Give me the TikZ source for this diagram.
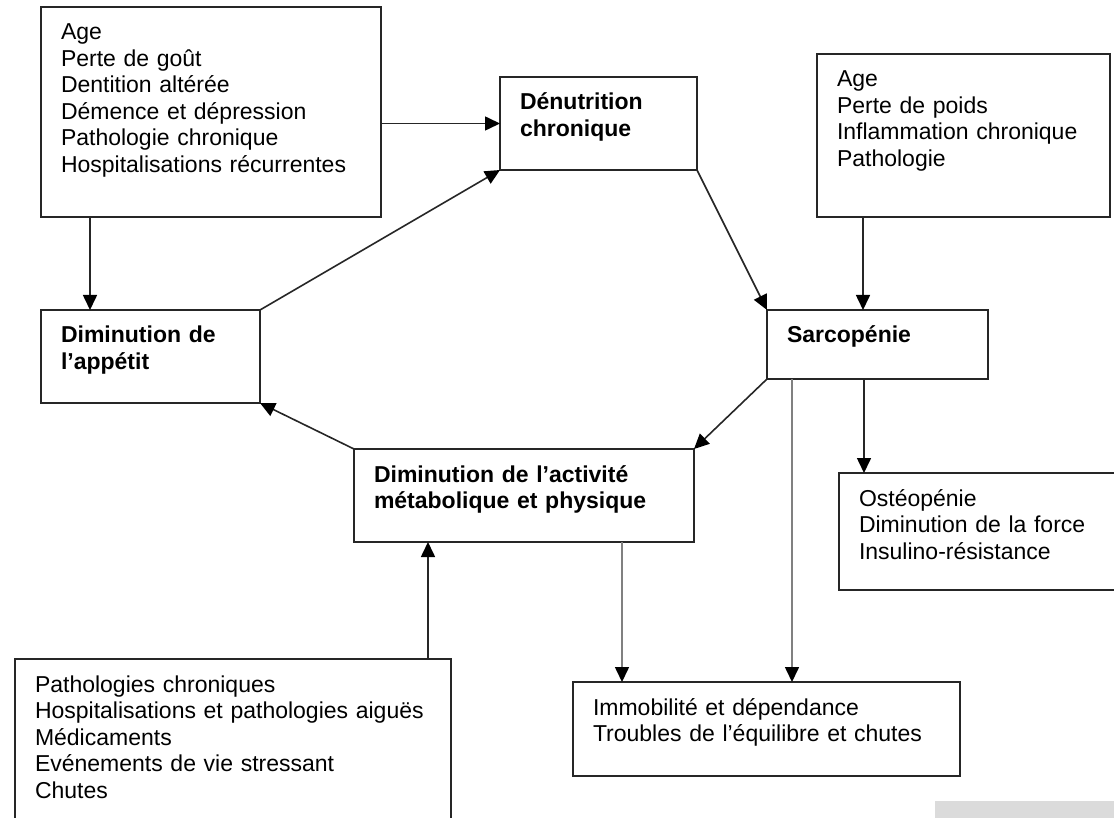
\documentclass[tikz,border=0pt]{standalone}
\usepackage{fontspec}
\setmainfont{Liberation Sans}
\usetikzlibrary{arrows.meta}

\begin{document}
\begin{tikzpicture}[x=1pt,y=-1pt,
	boite/.style={draw=black!85, line width=1.6pt, anchor=north west, inner xsep=20pt, inner ysep=0pt, outer sep=0pt, align=left, text height=33pt, font=\fontsize{23}{26.5}\selectfont},
	titre/.style={boite, font=\fontsize{23}{26.5}\selectfont\bfseries},
	fleche/.style={line width=1.6pt, draw=black!85, -{Triangle[length=15pt,width=14pt,color=black]}},
	grise/.style={fleche, draw=black!50}]
	\useasboundingbox (0,0) rectangle (1114,818);
	\clip (0,0) rectangle (1114,818);
	\node[boite, text width=300pt, text depth=177pt] (causesdenut) at (41,7) {Age\\Perte de goût\\Dentition altérée\\Démence et dépression\\Pathologie chronique\\Hospitalisations récurrentes};
	\node[titre, text width=157pt, text depth=60pt] (denut) at (500,77) {Dénutrition\\chronique};
	\node[boite, text width=253pt, text depth=130pt] (causessarco) at (817,54) {Age\\Perte de poids\\Inflammation chronique\\Pathologie};
	\node[titre, text width=181pt, text depth=36pt] (sarco) at (767,310) {Sarcopénie};
	\node[titre, text width=179pt, text depth=60pt] (appetit) at (41,310) {Diminution de\\l’appétit};
	\node[titre, text width=300pt, text depth=60pt] (activite) at (354,449) {Diminution de l’activité\\métabolique et physique};
	\node[boite, text width=245pt, text depth=84pt] (osteo) at (839,473) {Ostéopénie\\Diminution de la force\\Insulino-résistance};
	\node[boite, text width=347pt, text depth=61pt] (immob) at (573,682) {Immobilité et dépendance\\Troubles de l’équilibre et chutes};
	\node[boite, text width=396pt, text depth=147pt] (causesactiv) at (15,659) {Pathologies chroniques\\Hospitalisations et pathologies aiguës\\Médicaments\\Evénements de vie stressant\\Chutes};

	\draw[fleche] (causesdenut.east |- denut.west) -- (denut.west);
	\draw[fleche] ([xshift=49pt]causesdenut.south west) -- ([xshift=49pt]appetit.north west);
	\draw[fleche] (appetit.north east) -- (denut.south west);
	\draw[fleche] (denut.south east) -- (sarco.north west);
	\draw[fleche] ([xshift=96pt]sarco.north west |- causessarco.south) -- ([xshift=96pt]sarco.north west);
	\draw[fleche] (sarco.south west) -- (activite.north east);
	\draw[fleche] (activite.north west) -- (appetit.south east);
	\draw[grise] ([xshift=25pt]sarco.south west) -- ([xshift=25pt]sarco.south west |- immob.north);
	\draw[fleche] ([xshift=97pt]sarco.south west) -- ([xshift=97pt]sarco.south west |- osteo.north);
	\draw[grise] ([xshift=268pt]activite.south west) -- ([xshift=268pt]activite.south west |- immob.north);
	\draw[fleche] ([xshift=74pt]activite.south west |- causesactiv.north) -- ([xshift=74pt]activite.south west);

	\fill[black!14] (935,801) rectangle (1114,818);
\end{tikzpicture}
\end{document}
